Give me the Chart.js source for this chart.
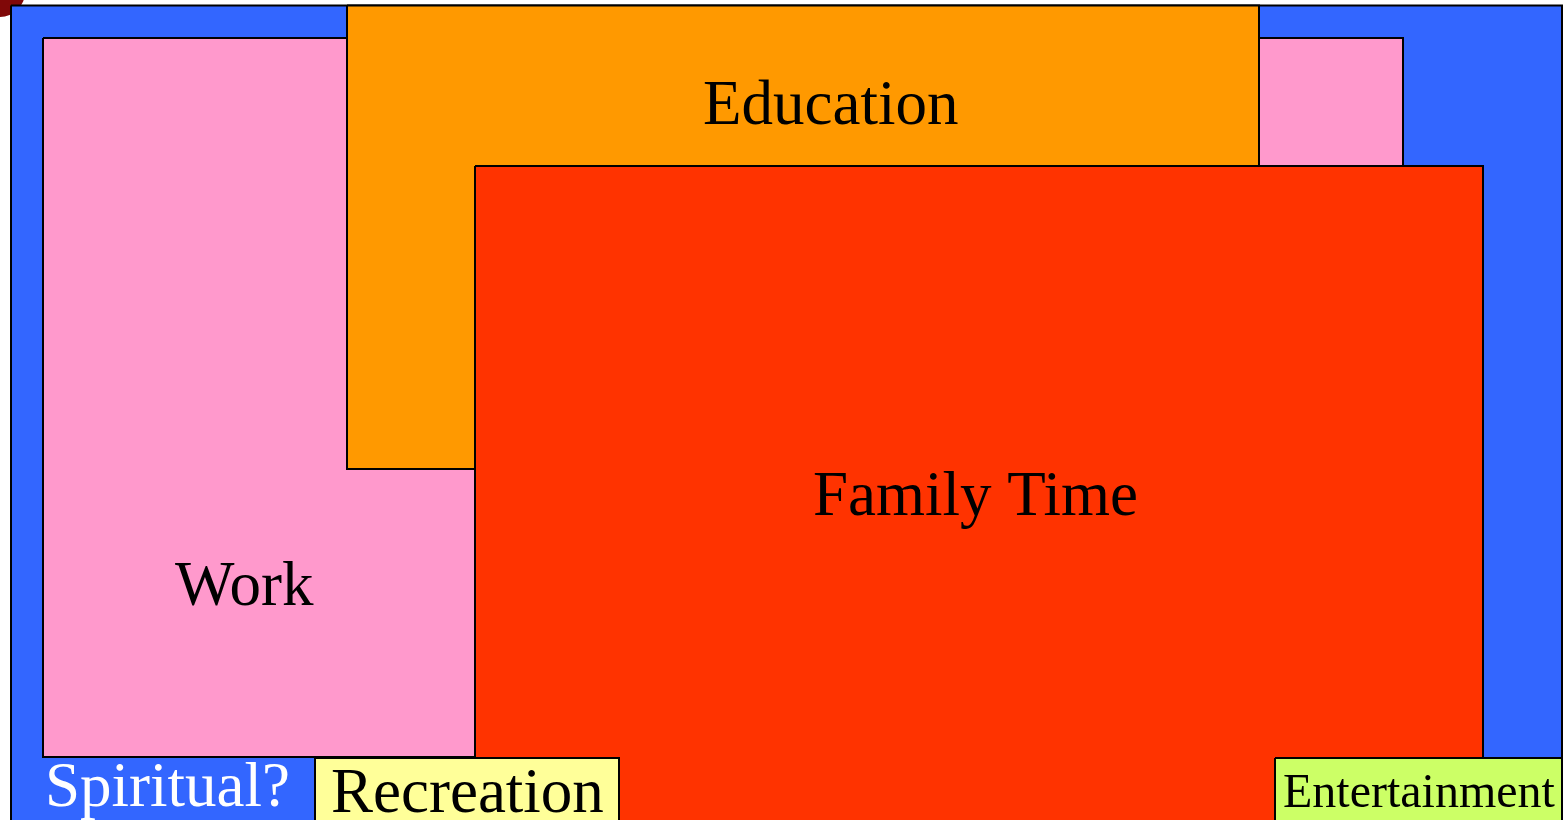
<!DOCTYPE html>
<html>
<head>
<meta charset="utf-8">
<script src="https://cdn.jsdelivr.net/npm/chart.js@4.4.1/dist/chart.umd.min.js"></script>
<style>
  html, body { margin: 0; padding: 0; background: #ffffff; }
  #wrap { width: 1564px; height: 820px; position: relative; }
</style>
</head>
<body>
<div id="wrap"><canvas id="c"></canvas></div>
<script>
// ---- data (in picture units) ----
const categories = ['Spiritual?', 'Work', 'Education', 'Family Time', 'Recreation', 'Entertainment'];
const xStart  = [11,   43,   347,  475,  315,  1275];
const xEnd    = [1562, 1403, 1259, 1483, 619,  1562];
const yTop    = [5.5,  38,   5.5,  166,  758,  758];
const yBottom = [840,  757,  469,  840,  840,  840];

// ---- styles / label layout (kept apart from the data) ----
const fillColors = ['#3366ff', '#ff99cc', '#ff9900', '#ff3300', '#ffff99', '#ccff66'];
const textColors = ['#ffffff', '#000000', '#000000', '#000000', '#000000', '#000000'];
const labelX     = [45, 175, 703, 813, 331, 1283];
const labelY     = [806, 605, 124, 515, 812, 807];
const fontSizes  = [63, 63, 63, 63, 63, 48];

const rectDatasets = categories.map((name, i) => ({
  type: 'scatter',
  label: name,
  data: [
    { x: xStart[i], y: yTop[i] },
    { x: xEnd[i],   y: yTop[i] },
    { x: xEnd[i],   y: yBottom[i] },
    { x: xStart[i], y: yBottom[i] },
    { x: xStart[i], y: yTop[i] }
  ],
  showLine: true,
  fill: 'shape',
  backgroundColor: fillColors[i],
  borderColor: '#000000',
  borderWidth: 2,
  borderJoinStyle: 'miter',
  pointRadius: 0,
  pointHoverRadius: 0,
  tension: 0,
  order: categories.length - i + 1
}));

const cornerDisc = {
  type: 'bubble',
  label: 'corner',
  data: [{ x: 0, y: -8, r: 25 }],
  backgroundColor: '#800808',
  borderColor: '#800808',
  borderWidth: 0,
  clip: false,
  order: 100
};

const labelPlugin = {
  id: 'boxLabels',
  afterDatasetsDraw(chart) {
    const ctx = chart.ctx;
    const xs = chart.scales.x, ys = chart.scales.y;
    ctx.save();
    ctx.textAlign = 'left';
    ctx.textBaseline = 'alphabetic';
    categories.forEach((name, i) => {
      ctx.font = fontSizes[i] + 'px "Liberation Serif", "Times New Roman", serif';
      ctx.fillStyle = textColors[i];
      ctx.fillText(name, xs.getPixelForValue(labelX[i]), ys.getPixelForValue(labelY[i]));
    });
    ctx.restore();
  }
};

new Chart(document.getElementById('c'), {
  type: 'scatter',
  data: { datasets: [cornerDisc, ...rectDatasets] },
  options: {
    responsive: true,
    maintainAspectRatio: false,
    animation: false,
    layout: { padding: 0, autoPadding: false },
    plugins: {
      legend: { display: false },
      tooltip: { enabled: false },
      title: { display: false }
    },
    scales: {
      x: { type: 'linear', min: 0, max: 1564, display: false },
      y: { type: 'linear', min: 0, max: 820, reverse: true, display: false }
    }
  },
  plugins: [labelPlugin]
});
</script>
</body>
</html>
